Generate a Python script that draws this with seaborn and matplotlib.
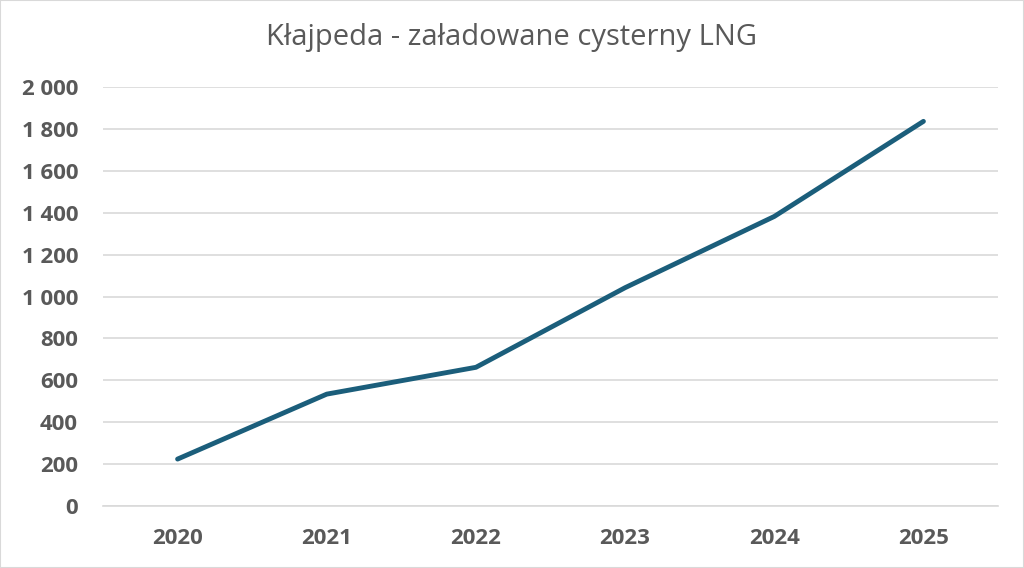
import pandas as pd
import matplotlib.pyplot as plt
import seaborn as sns
from matplotlib.ticker import FuncFormatter

years = [2020, 2021, 2022, 2023, 2024, 2025]
loaded = [224, 534, 662, 1042, 1382, 1836]

df = pd.DataFrame({"Rok": years, "Cysterny": loaded})

sns.set_style("white")
plt.rcParams['font.family'] = ['Open Sans', 'DejaVu Sans']

fig = plt.figure(figsize=(10.24, 5.68), dpi=100)
ax = fig.add_axes([103/1024, 1 - 506/568, 895/1024, 419/568])

sns.lineplot(x="Rok", y="Cysterny", data=df, ax=ax, color="#1B5E7B",
             linewidth=3.5, solid_capstyle="round", solid_joinstyle="round")

# Decorations
ax.set_xlim(2019.5, 2025.5)
ax.set_ylim(0, 2000)
ax.set_yticks(range(0, 2001, 200))
ax.set_xticks(years)
ax.yaxis.set_major_formatter(FuncFormatter(lambda v, p: f"{v:,.0f}".replace(",", " ")))
ax.grid(axis="y", color="#D9D9D9", linewidth=1.2)
ax.set_axisbelow(True)
for s in ["top", "right", "left"]:
    ax.spines[s].set_visible(False)
ax.spines["bottom"].set_color("#D9D9D9")
ax.spines["bottom"].set_linewidth(1.2)
ax.tick_params(length=0, labelsize=16, labelcolor="#595959")
ax.tick_params(axis="x", pad=16)
ax.tick_params(axis="y", pad=18)
for lbl in ax.get_xticklabels() + ax.get_yticklabels():
    lbl.set_fontweight("bold")
ax.set_xlabel("")
ax.set_ylabel("")
fig.text(0.5, 1 - 38/568, "Kłajpeda - załadowane cysterny LNG", ha="center", va="center",
         fontsize=21, color="#595959")

fig.patches.append(plt.Rectangle((0, 0), 1, 1, transform=fig.transFigure,
                                 fill=False, edgecolor="#D9D9D9", linewidth=1.5))

plt.savefig("out.png", dpi=100)
